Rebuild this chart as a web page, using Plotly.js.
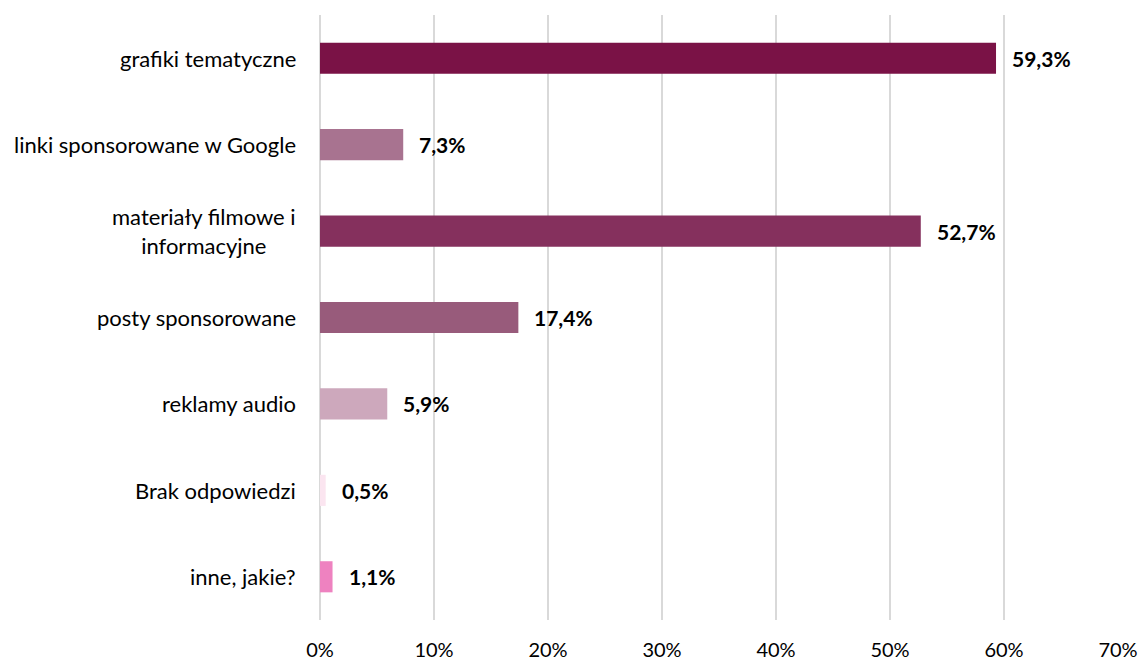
<!DOCTYPE html>
<html>
<head>
<meta charset="utf-8">
<script src="https://cdn.plot.ly/plotly-3.0.1.min.js"></script>
<style>html,body{margin:0;padding:0;background:#fff;}#chart{width:1139px;height:660px;}</style>
</head>
<body>
<div id="chart"></div>
<script>
const categories = ["grafiki tematyczne", "linki sponsorowane w Google", "materiały filmowe i<br>informacyjne", "posty sponsorowane", "reklamy audio", "Brak odpowiedzi", "inne, jakie?"];
const values = [59.3, 7.3, 52.7, 17.4, 5.9, 0.5, 1.1];
const valueLabels = ["59,3%", "7,3%", "52,7%", "17,4%", "5,9%", "0,5%", "1,1%"];
const barColors = ["#7A1246", "#A87390", "#85305D", "#985B7B", "#CDA8BC", "#FBE5F0", "#EE82C0"];
const tickVals = [0, 10, 20, 30, 40, 50, 60, 70];
const tickText = ["0%", "10%", "20%", "30%", "40%", "50%", "60%", "70%"];

const fontFam = "Lato, 'Open Sans', sans-serif";

const bars = {
  type: 'bar', orientation: 'h', x: values, y: categories,
  marker: {color: barColors, line: {width: 0}},
  width: 0.36, hoverinfo: 'skip'
};

const annotations = [];
categories.forEach((c, i) => {
  annotations.push({
    x: -0.027, xref: 'paper', y: c, yref: 'y', text: c,
    xanchor: 'right', yanchor: 'middle', align: 'center', showarrow: false,
    font: {family: fontFam, size: 22, color: '#000'}
  });
  annotations.push({
    x: values[i], xref: 'x', y: c, yref: 'y', text: '<b>' + valueLabels[i] + '</b>',
    xanchor: 'left', yanchor: 'middle', xshift: 14, showarrow: false,
    font: {family: fontFam, size: 21, color: '#000'}
  });
});

const layout = {
  width: 1139, height: 660,
  margin: {l: 320, r: 21, t: 15, b: 40},
  paper_bgcolor: '#fff', plot_bgcolor: '#fff',
  showlegend: false, barmode: 'overlay',
  font: {family: fontFam, size: 20, color: '#000'},
  xaxis: {
    range: [0, 70], tickvals: tickVals, ticktext: tickText,
    showgrid: true, gridcolor: '#D9D9D9', gridwidth: 1.5,
    zeroline: true, zerolinecolor: '#D9D9D9', zerolinewidth: 1.5,
    showline: false, ticks: '', fixedrange: true, ticklabelstandoff: 16,
    tickfont: {family: fontFam, size: 20, color: '#000'}
  },
  yaxis: {
    autorange: 'reversed', showticklabels: false, showgrid: false,
    zeroline: false, showline: false, ticks: ''
  },
  annotations: annotations
};

Plotly.newPlot('chart', [bars], layout, {displayModeBar: false, staticPlot: true});
</script>
</body>
</html>
